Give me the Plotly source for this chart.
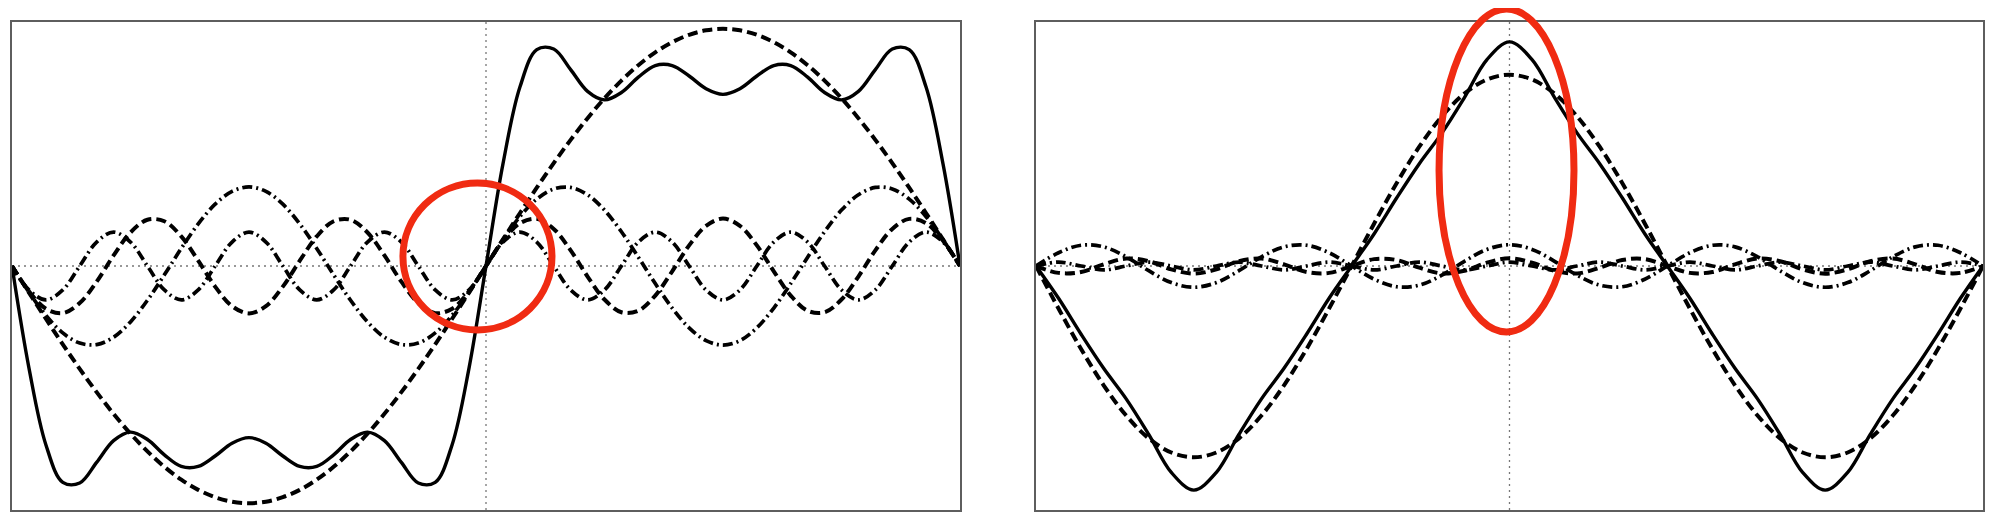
import plotly.graph_objects as go

# ---------------- data: sample positions ----------------
left_k = list(range(-28, 29))    # left panel, 57 samples across the period
right_k = list(range(-21, 22))   # right panel, 43 samples

# ---------------- left panel (square-wave partial sum) ----------------
left_sum = [0, -0.5468, -0.9592, -1.1614, -1.1651, -1.0545, -0.9377, -0.8918, -0.9313, -1.0138,
            -1.0760, -1.0761, -1.0200, -0.9516, -0.9215, -0.9516, -1.0200, -1.0761, -1.0760, -1.0138,
            -0.9313, -0.8918, -0.9377, -1.0545, -1.1651, -1.1614, -0.9592, -0.5468,
            0,
            0.5468, 0.9592, 1.1614, 1.1651, 1.0545, 0.9377, 0.8918, 0.9313, 1.0138, 1.0760,
            1.0761, 1.0200, 0.9516, 0.9215, 0.9516, 1.0200, 1.0761, 1.0760, 1.0138, 0.9313,
            0.8918, 0.9377, 1.0545, 1.1651, 1.1614, 0.9592, 0.5468, 0]
left_h1 = [0, -0.1426, -0.2833, -0.4205, -0.5524, -0.6773, -0.7938, -0.9003, -0.9954, -1.0780,
           -1.1472, -1.2018, -1.2413, -1.2652, -1.2732, -1.2652, -1.2413, -1.2018, -1.1472, -1.0780,
           -0.9954, -0.9003, -0.7938, -0.6773, -0.5524, -0.4205, -0.2833, -0.1426,
           0,
           0.1426, 0.2833, 0.4205, 0.5524, 0.6773, 0.7938, 0.9003, 0.9954, 1.0780, 1.1472,
           1.2018, 1.2413, 1.2652, 1.2732, 1.2652, 1.2413, 1.2018, 1.1472, 1.0780, 0.9954,
           0.9003, 0.7938, 0.6773, 0.5524, 0.4205, 0.2833, 0.1426, 0]
left_h3 = [0, -0.1402, -0.2646, -0.3593, -0.4137, -0.4217, -0.3824, -0.3001, -0.1841, -0.0475,
           0.0944, 0.2258, 0.3318, 0.4006, 0.4244, 0.4006, 0.3318, 0.2258, 0.0944, -0.0475,
           -0.1841, -0.3001, -0.3824, -0.4217, -0.4137, -0.3593, -0.2646, -0.1402,
           0,
           0.1402, 0.2646, 0.3593, 0.4137, 0.4217, 0.3824, 0.3001, 0.1841, 0.0475, -0.0944,
           -0.2258, -0.3318, -0.4006, -0.4244, -0.4006, -0.3318, -0.2258, -0.0944, 0.0475, 0.1841,
           0.3001, 0.3824, 0.4217, 0.4137, 0.3593, 0.2646, 0.1402, 0]
left_h5 = [0, -0.1354, -0.2294, -0.2530, -0.1990, -0.0841, 0.0566, 0.1800, 0.2482, 0.2403,
           0.1587, 0.0285, -0.1105, -0.2156, -0.2546, -0.2156, -0.1105, 0.0285, 0.1587, 0.2403,
           0.2482, 0.1800, 0.0566, -0.0841, -0.1990, -0.2530, -0.2294, -0.1354,
           0,
           0.1354, 0.2294, 0.2530, 0.1990, 0.0841, -0.0566, -0.1800, -0.2482, -0.2403, -0.1587,
           -0.0285, 0.1105, 0.2156, 0.2546, 0.2156, 0.1105, -0.0285, -0.1587, -0.2403, -0.2482,
           -0.1800, -0.0566, 0.0841, 0.1990, 0.2530, 0.2294, 0.1354, 0]
left_h7 = [0, -0.1286, -0.1819, -0.1286, 0, 0.1286, 0.1819, 0.1286, 0, -0.1286,
           -0.1819, -0.1286, 0, 0.1286, 0.1819, 0.1286, 0, -0.1286, -0.1819, -0.1286,
           0, 0.1286, 0.1819, 0.1286, 0, -0.1286, -0.1819, -0.1286,
           0,
           0.1286, 0.1819, 0.1286, 0, -0.1286, -0.1819, -0.1286, 0, 0.1286, 0.1819,
           0.1286, 0, -0.1286, -0.1819, -0.1286, 0, 0.1286, 0.1819, 0.1286, 0,
           -0.1286, -0.1819, -0.1286, 0, 0.1286, 0.1819, 0.1286, 0]

# ---------------- right panel (triangle-wave partial sum) ----------------
right_sum = [0, -0.1369, -0.2892, -0.4335, -0.5630, -0.7137, -0.8748, -0.9496, -0.8748, -0.7137,
             -0.5630, -0.4335, -0.2892, -0.1369, 0, 0.1369, 0.2892, 0.4335, 0.5630, 0.7137, 0.8748,
             0.9496,
             0.8748, 0.7137, 0.5630, 0.4335, 0.2892, 0.1369, 0, -0.1369, -0.2892, -0.4335,
             -0.5630, -0.7137, -0.8748, -0.9496, -0.8748, -0.7137, -0.5630, -0.4335, -0.2892, -0.1369, 0]
right_h1 = [0, -0.1804, -0.3517, -0.5054, -0.6337, -0.7304, -0.7903, -0.8106, -0.7903, -0.7304,
            -0.6337, -0.5054, -0.3517, -0.1804, 0, 0.1804, 0.3517, 0.5054, 0.6337, 0.7304, 0.7903,
            0.8106,
            0.7903, 0.7304, 0.6337, 0.5054, 0.3517, 0.1804, 0, -0.1804, -0.3517, -0.5054,
            -0.6337, -0.7304, -0.7903, -0.8106, -0.7903, -0.7304, -0.6337, -0.5054, -0.3517, -0.1804, 0]
right_h3 = [0, 0.0562, 0.0878, 0.0812, 0.0391, -0.0200, -0.0704, -0.0901, -0.0704, -0.0200,
            0.0391, 0.0812, 0.0878, 0.0562, 0, -0.0562, -0.0878, -0.0812, -0.0391, 0.0200, 0.0704,
            0.0901,
            0.0704, 0.0200, -0.0391, -0.0812, -0.0878, -0.0562, 0, 0.0562, 0.0878, 0.0812,
            0.0391, -0.0200, -0.0704, -0.0901, -0.0704, -0.0200, 0.0391, 0.0812, 0.0878, 0.0562, 0]
right_h5 = [0, -0.0292, -0.0253, 0.0072, 0.0316, 0.0202, -0.0141, -0.0324, -0.0141, 0.0202,
            0.0316, 0.0072, -0.0253, -0.0292, 0, 0.0292, 0.0253, -0.0072, -0.0316, -0.0202, 0.0141,
            0.0324,
            0.0141, -0.0202, -0.0316, -0.0072, 0.0253, 0.0292, 0, -0.0292, -0.0253, 0.0072,
            0.0316, 0.0202, -0.0141, -0.0324, -0.0141, 0.0202, 0.0316, 0.0072, -0.0253, -0.0292, 0]
right_h7 = [0, 0.0165, 0, -0.0165, 0, 0.0165, 0, -0.0165, 0, 0.0165,
            0, -0.0165, 0, 0.0165, 0, -0.0165, 0, 0.0165, 0, -0.0165, 0,
            0.0165,
            0, -0.0165, 0, 0.0165, 0, -0.0165, 0, 0.0165, 0, -0.0165,
            0, 0.0165, 0, -0.0165, 0, 0.0165, 0, -0.0165, 0, 0.0165, 0]

# ---------------- styles ----------------
DASHED = "10px,5px"
DASHDOT = "10px,4px,2px,4px"
INK = "#000000"
RED = "#f02b12"
FRAME = "#5e5e5e"

fig = go.Figure()

def add_curves(xs, series, xa, ya):
    for ys, dash, w in series:
        fig.add_trace(go.Scatter(
            x=xs, y=ys, mode="lines", xaxis=xa, yaxis=ya,
            line=dict(color=INK, width=w, dash=dash, shape="spline", smoothing=1.0),
            hoverinfo="skip", showlegend=False))

add_curves(left_k, [(left_h1, DASHED, 4.0), (left_h3, DASHDOT, 3.7),
                    (left_h5, DASHED, 4.0), (left_h7, DASHDOT, 3.7),
                    (left_sum, "solid", 3.4)], "x", "y")
add_curves(right_k, [(right_h1, DASHED, 4.0), (right_h3, DASHDOT, 3.7),
                     (right_h5, DASHED, 4.0), (right_h7, DASHDOT, 3.7),
                     (right_sum, "solid", 3.4)], "x2", "y2")

# dotted reference axes
shapes = []
for xa, ya in (("x", "y"), ("x2", "y2")):
    shapes.append(dict(type="line", xref=xa + " domain", yref=ya, x0=0, x1=1, y0=0, y1=0,
                       line=dict(color="#777777", width=1.3, dash="2px,4px"), layer="below"))
    shapes.append(dict(type="line", xref=xa, yref=ya + " domain", x0=0, x1=0, y0=0, y1=1,
                       line=dict(color="#777777", width=1.3, dash="2px,4px"), layer="below"))

# red highlight marks
shapes.append(dict(type="circle", xref="x domain", yref="y domain",
                   x0=0.4124, x1=0.5696, y0=0.369, y1=0.670,
                   line=dict(color=RED, width=7), layer="above"))
shapes.append(dict(type="circle", xref="x2 domain", yref="y2 domain",
                   x0=0.4256, x1=0.5681, y0=0.3648, y1=1.0266,
                   line=dict(color=RED, width=7), layer="above"))

ax_common = dict(showgrid=False, zeroline=False, showticklabels=False, ticks="",
                 showline=True, mirror=True, linecolor=FRAME, linewidth=1.5, fixedrange=True)

# the page body adds an 8px offset, so the figure is 8px smaller and margins compensate
fig.update_layout(
    width=1995, height=523,
    margin=dict(l=4, r=20, t=14, b=21),
    paper_bgcolor="white", plot_bgcolor="white",
    xaxis=dict(domain=[0, 0.48097], range=[-28, 28], anchor="y", **ax_common),
    yaxis=dict(domain=[0, 1], range=[-1.31, 1.31], anchor="x", **ax_common),
    xaxis2=dict(domain=[0.51953, 1], range=[-21, 21], anchor="y2", **ax_common),
    yaxis2=dict(domain=[0, 1], range=[-1.034, 1.034], anchor="x2", **ax_common),
    shapes=shapes,
    showlegend=False,
)

fig.write_html("out.html")
